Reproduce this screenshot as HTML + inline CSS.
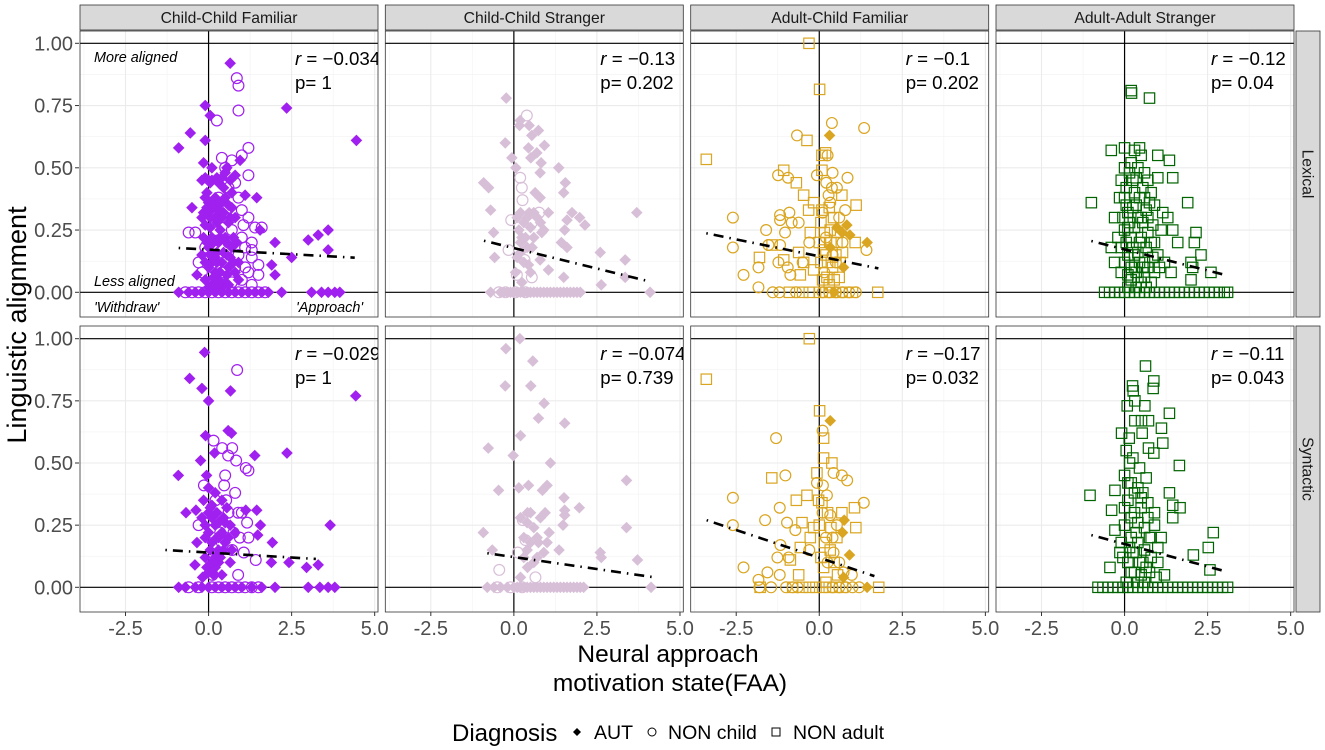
<!DOCTYPE html>
<html><head><meta charset="utf-8">
<style>
html,body{margin:0;padding:0;background:#fff;}
svg{display:block;font-family:"Liberation Sans",Arial,sans-serif;}
</style></head>
<body>
<svg id="chart" width="1325" height="750" viewBox="0 0 1325 750" xmlns="http://www.w3.org/2000/svg">
<defs id="defs"></defs>
<g id="root"></g>
</svg>
<script>
// ---------- data ----------
const facetTitles = ["Child-Child Familiar","Child-Child Stranger","Adult-Child Familiar","Adult-Adult Stranger"];
const rowTitles = ["Lexical","Syntactic"];
const panelColors = ["#a020f0","#d8bfd8","#daa520","#006400"];
const xTicks = [-2.5,0,2.5,5];
const xTickLabels = ["-2.5","0.0","2.5","5.0"];
const yTicks = [0,0.25,0.5,0.75,1];
const yTickLabels = ["0.00","0.25","0.50","0.75","1.00"];
const rValues = [["r = \u22120.034","r = \u22120.13","r = \u22120.1","r = \u22120.12"],["r = \u22120.029","r = \u22120.074","r = \u22120.17","r = \u22120.11"]];
const pValues = [["p= 1","p= 0.202","p= 0.202","p= 0.04"],["p= 1","p= 0.739","p= 0.032","p= 0.043"]];
const fitLines = [[[-0.9,0.178,4.4,0.139],[-0.9,0.207,4.1,0.043],[-3.4,0.237,1.78,0.096],[-1.0,0.206,2.96,0.072]],
                  [[-1.3,0.15,3.23,0.114],[-0.8,0.137,4.24,0.04],[-3.39,0.27,1.66,0.045],[-1.0,0.21,2.96,0.067]]];

// Row 1 (Lexical)
const r1p1_aut = [[0.65,0.92],[-0.1,0.75],[0.05,0.71],[2.35,0.74],[4.45,0.61],[-0.9,0.58],[-0.55,0.64],[-0.1,0.61],[-0.5,0.34],[-0.15,0.52],[0.95,0.53],[1.1,0.39],[1.45,0.38],[0.8,0.47],[1.55,0.25],[2.0,0.2],[1.9,0.11],[2.0,0.07],[-0.35,0.07],[3.0,0.21],[3.3,0.23],[3.6,0.25],[3.6,0.17],[2.5,0.14],[0,0.45],[0.1,0.45],[0.3,0.44],[0.5,0.48],[0.2,0.38],[0.4,0.36],[0.6,0.35],[0.0,0.32],[0.2,0.3],[0.4,0.3],[0.6,0.28],[-0.1,0.27],[0.1,0.22],[0.3,0.2],[0.5,0.22],[0.7,0.18],[-0.2,0.15],[0.0,0.18],[0.2,0.14],[0.4,0.12],[0.6,0.1],[0.0,0.1],[0.2,0.08],[-0.1,0.05],[0.3,0.05],[0.5,0.04],[0.1,0.03],[0.8,0.08],[0.9,0.12],[-0.05,0.4],[0.15,0.34],[0.35,0.25],[0.55,0.15],[-0.15,0.22],[0.05,0.26],[0.25,0.16],[0.45,0.42],[0.7,0.4],[0.0,0.36],[0.8,0.3],[-0.2,0.45],[0.1,0.5],[-0.1,0.38],[0.3,0.33],[0.1,0.12],[-0.2,0.3],
 [-0.1,0.46],[0.05,0.44],[0.25,0.46],[0.4,0.46],[0.55,0.5],[0.65,0.45],[-0.05,0.34],[0.1,0.36],[0.3,0.36],[0.5,0.38],[0.7,0.34],[0.05,0.3],[0.25,0.28],[0.45,0.32],[0.65,0.3],[-0.05,0.2],[0.15,0.2],[0.35,0.22],[0.55,0.2],[0.75,0.22],[0.05,0.15],[0.25,0.12],[0.45,0.16],[0.65,0.14],[-0.1,0.12],[0.15,0.06],[0.35,0.08],[0.55,0.07],[0.75,0.12],[0.0,0.02],[0.2,0.02],[0.4,0.02],[0.6,0.03],[-0.15,0.32],[0.85,0.2],[0.9,0.05]];
const r1p1_nonc = [[0.85,0.86],[0.9,0.83],[0.9,0.73],[0.25,0.69],[1.2,0.58],[1.0,0.55],[0.4,0.54],[0.7,0.53],[1.2,0.47],[0.5,0.5],[0.8,0.44],[1.0,0.33],[1.2,0.3],[1.05,0.27],[1.4,0.26],[1.6,0.26],[1.3,0.2],[-0.6,0.24],[-0.4,0.24],[1.1,0.18],[1.3,0.17],[1.3,0.14],[1.5,0.11],[1.5,0.07],[1.1,0.1],[0.9,0.15],[0.6,0.2],[0.5,0.3],[0.3,0.38],[0.7,0.25],[-0.3,0.12],[-0.2,0.08],[0.4,0.08],[0.7,0.04],[1.0,0.05],[1.3,0.03],[0.6,0.42],[0.9,0.38],[1.0,0.22],[0.8,0.1],[0.2,0.25],[-0.1,0.18],[1.2,0.08]];
const r1p1_nona = [];
const r1p1_autZero = [-0.9,-0.6,-0.4,-0.2,0.0,0.2,0.4,0.6,0.8,1.0,1.2,1.4,1.6,1.8,2.2,3.1,3.4,3.6,3.8,3.95];
const r1p1_noncZero = [-0.7,-0.5,-0.3,-0.1,0.1,0.3,0.5,0.7,0.9,1.1,1.3,1.5,1.7];
const r1p1_nonaZero = [];

const r1p2_aut = [[-0.23,0.78],[0.19,0.69],[0.46,0.67],[0.17,0.67],[0.74,0.65],[0.54,0.63],[-0.26,0.6],[0.92,0.59],[0.44,0.58],[0.69,0.56],[0.51,0.54],[-0.06,0.54],[0.06,0.5],[0.82,0.52],[1.35,0.5],[0.79,0.48],[1.55,0.44],[-0.91,0.44],[-0.76,0.42],[1.5,0.4],[0.64,0.4],[0.79,0.38],[-0.7,0.33],[0.46,0.32],[1.04,0.32],[1.75,0.32],[1.98,0.3],[1.6,0.29],[3.7,0.32],[2.14,0.27],[1.53,0.25],[-0.61,0.24],[0.24,0.22],[0.84,0.24],[1.43,0.2],[1.6,0.18],[2.6,0.16],[3.35,0.13],[-0.58,0.14],[0.79,0.13],[0.44,0.11],[1.04,0.09],[1.5,0.06],[2.63,0.03],[3.35,0.06],[0.24,0.04],[0.1,0.3],[0.3,0.28],[0.5,0.26],[0.2,0.2],[0.4,0.18],[0.6,0.22],[0.1,0.14],[0.3,0.12],[0.7,0.3],[0.9,0.25],[0.05,0.08],[0.2,0.32],[0.4,0.3],[0.6,0.32],[0.8,0.28],[0.15,0.25],[0.35,0.22],[0.55,0.18],[0.2,0.16],[0.5,0.08]];
const r1p2_nonc = [[0.39,0.71],[0.19,0.46],[0.24,0.42],[0.26,0.37],[0.76,0.32],[-0.08,0.29],[0.54,0.28],[-0.16,0.17],[0.09,0.07],[0.54,0.06],[0.32,0.13]];
const r1p2_nona = [];
const r1p2_autZero = [-0.7,-0.4,-0.3,-0.2,-0.1,0.0,0.1,0.2,0.3,0.4,0.5,0.6,0.7,0.8,0.9,1.0,1.1,1.2,1.3,1.4,1.5,1.6,1.7,1.8,1.9,2.0,4.1];
const r1p2_noncZero = [-0.45,-0.25,0.05,0.35];
const r1p2_nonaZero = [];

const r1p3_aut = [[0.31,0.63],[0.83,0.27],[0.69,0.24],[0.92,0.23],[1.44,0.2],[0.53,0.26],[0.73,0.1],[0.33,0.18]];
const r1p3_nonc = [[0.38,0.68],[1.35,0.66],[-0.67,0.63],[0.25,0.55],[-0.07,0.47],[0.4,0.48],[0.85,0.46],[-1.24,0.47],[-0.94,0.46],[0.21,0.44],[0.38,0.42],[0.28,0.39],[0.78,0.33],[-2.6,0.3],[-1.18,0.31],[-0.9,0.32],[-1.18,0.29],[-0.83,0.28],[-0.62,0.28],[-1.6,0.25],[-1.03,0.24],[-2.6,0.18],[-1.53,0.19],[-1.18,0.19],[-1.23,0.12],[-0.95,0.1],[-1.83,0.1],[-2.28,0.07],[-1.83,0.02],[-0.87,0.07],[1.42,0.17],[0.53,0.42],[0.33,0.36],[0.6,0.3],[0.2,0.22],[0.5,0.12],[0.1,0.32],[0.7,0.2],[0.4,0.15],[0.15,0.08],[-0.3,0.2],[-0.5,0.12]];
const r1p3_nona = [[-0.31,1.0],[0.01,0.815],[-3.4,0.534],[-0.37,0.61],[0.08,0.55],[0.19,0.56],[-1.07,0.49],[-0.69,0.44],[-0.47,0.39],[0.08,0.49],[0.68,0.39],[1.11,0.35],[-0.17,0.36],[-0.32,0.33],[0.08,0.33],[-0.27,0.24],[-1.42,0.19],[-1.8,0.14],[-1.07,0.13],[-0.62,0.16],[-0.47,0.12],[-0.17,0.09],[-0.57,0.07],[1.08,0.2],[0.43,0.3],[0.33,0.25],[0.53,0.2],[0.13,0.17],[0.63,0.12],[0.23,0.06],[0.0,0.2],[0.2,0.15],[0.4,0.1],[0.1,0.05],[0.3,0.03],[0.6,0.06],[0.5,0.15],[0.05,0.28],[0.15,0.24],[0.35,0.2],[0.55,0.24],[0.25,0.12],[0.45,0.05],[0.05,0.12],[0.7,0.16],[0.3,0.34]];
const r1p3_autZero = [0.45];
const r1p3_noncZero = [-1.4,-1.2,-0.7,0.1,0.3,0.5,0.7,0.9,1.1];
const r1p3_nonaZero = [-0.9,-0.5,-0.3,0.0,0.2,0.4,0.6,0.8,1.0,1.76];

const r1p4_aut = [];
const r1p4_nonc = [];
const r1p4_nona = [[0.2,0.81],[0.21,0.8],[0.75,0.78],[-0.4,0.57],[0.0,0.58],[0.3,0.57],[0.45,0.58],[0.5,0.55],[1.0,0.55],[1.35,0.53],[0.2,0.52],[0.4,0.5],[0.7,0.45],[1.45,0.46],[1.0,0.46],[-0.1,0.45],[-1.0,0.36],[1.9,0.36],[0.0,0.38],[0.3,0.4],[0.6,0.38],[0.9,0.35],[1.15,0.32],[0.1,0.32],[0.4,0.3],[-0.3,0.3],[0.7,0.3],[1.3,0.3],[1.45,0.25],[2.15,0.24],[2.1,0.2],[1.6,0.2],[-0.4,0.18],[-0.3,0.12],[0.0,0.25],[0.2,0.22],[0.5,0.22],[0.8,0.2],[1.0,0.15],[1.2,0.12],[2.3,0.15],[2.0,0.12],[2.05,0.1],[2.6,0.08],[2.0,0.05],[1.4,0.08],[0.1,0.15],[0.3,0.1],[0.6,0.12],[0.9,0.08],[-0.1,0.08],[0.2,0.05],[0.5,0.04],[0.4,0.16],[0.15,0.28],[0.35,0.35],[0.55,0.28],[0.25,0.45],[-0.2,0.22],[0.7,0.1],[-0.15,0.38],[0.05,0.42],[0.6,0.48],[0.8,0.4],[0.45,0.2],[0.1,0.02],[0.35,0.08],[0.65,0.02],
 [0.0,0.5],[0.15,0.48],[0.35,0.46],[0.55,0.42],[0.75,0.36],[0.05,0.35],[0.25,0.34],[0.45,0.38],[0.65,0.33],[0.85,0.27],[-0.05,0.3],[0.1,0.26],[0.3,0.26],[0.5,0.3],[0.7,0.24],[0.9,0.2],[1.1,0.25],[-0.1,0.18],[0.05,0.2],[0.25,0.18],[0.45,0.12],[0.65,0.18],[0.85,0.14],[1.05,0.1],[0.0,0.12],[0.2,0.1],[0.4,0.06],[0.6,0.06],[0.8,0.04],[0.1,0.07],[0.3,0.15],[0.55,0.1],[0.35,0.02]];
const r1p4_autZero = [];
const r1p4_noncZero = [];
const r1p4_nonaZero = [-0.6,-0.45,-0.3,-0.15,0.0,0.15,0.3,0.45,0.6,0.75,0.9,1.05,1.2,1.35,1.5,1.65,1.8,1.95,2.1,2.25,2.4,2.55,2.7,2.85,3.0,3.1];

// Row 2 (Syntactic)
const r2p1_aut = [[-0.12,0.945],[-0.57,0.84],[-0.2,0.8],[0.66,0.79],[0,0.75],[4.43,0.77],[-0.09,0.61],[0.59,0.63],[0.69,0.62],[-0.91,0.45],[-0.24,0.51],[0.18,0.54],[1.39,0.53],[2.36,0.54],[-0.06,0.45],[-0.68,0.3],[-0.38,0.31],[1.45,0.31],[1.12,0.31],[1.56,0.25],[3.66,0.25],[1.48,0.21],[1.92,0.18],[-0.35,0.18],[-0.41,0.09],[1.89,0.1],[2.42,0.1],[2.95,0.08],[3.3,0.09],[-0.18,0.04],[0,0.3],[0.1,0.28],[0.2,0.25],[0.3,0.2],[0.4,0.22],[0.5,0.18],[0.0,0.22],[0.1,0.18],[0.2,0.12],[0.3,0.1],[-0.1,0.12],[0.4,0.35],[0.6,0.2],[0.7,0.15],[0.0,0.4],[0.2,0.38],[0.5,0.26],[0.8,0.22],[-0.05,0.08],[0.15,0.05],[-0.1,0.25],[0.1,0.33],[0.3,0.15],
 [-0.15,0.35],[0.05,0.32],[0.25,0.3],[0.45,0.28],[0.65,0.25],[-0.1,0.2],[0.05,0.15],[0.25,0.2],[0.45,0.15],[0.65,0.1],[0.0,0.06],[0.2,0.08],[0.4,0.05],[-0.2,0.28],[0.3,0.26],[0.55,0.32],[0.1,0.1],[0.35,0.12]];
const r2p1_nonc = [[0.86,0.874],[0.15,0.59],[0.41,0.56],[0.71,0.56],[0.59,0.53],[0.83,0.51],[1.12,0.48],[1.2,0.47],[-0.14,0.41],[0.47,0.41],[0.8,0.38],[0.21,0.35],[0.53,0.35],[0.89,0.3],[1.16,0.26],[-0.3,0.25],[0.94,0.2],[1.42,0.11],[0.12,0.05],[0.89,0.05],[1.06,0.14],[0.35,0.22],[0.71,0.15],[0.6,0.3],[0.25,0.12],[0.5,0.45],[1.0,0.3],[0.75,0.22],[0.4,0.18],[1.2,0.2]];
const r2p1_nona = [];
const r2p1_autZero = [-0.9,-0.7,-0.4,-0.2,0.0,0.2,0.4,0.6,0.8,1.0,1.3,1.6,2.0,3.0,3.35,3.6,3.8];
const r2p1_noncZero = [-0.6,-0.3,0.1,0.3,0.5,0.7,0.9,1.1,1.3,1.5];
const r2p1_nonaZero = [];

const r2p2_aut = [[0.18,1.0],[-0.24,0.96],[0.57,0.91],[-0.26,0.81],[0.51,0.81],[0.91,0.74],[0.74,0.68],[1.53,0.66],[0.2,0.61],[-0.77,0.56],[-0.02,0.53],[1.1,0.5],[3.39,0.43],[-0.46,0.39],[0.15,0.4],[0.44,0.41],[1.0,0.41],[0.86,0.39],[1.51,0.36],[1.97,0.32],[1.53,0.31],[0.94,0.3],[0.41,0.3],[1.53,0.29],[1.48,0.25],[3.39,0.24],[-0.92,0.22],[1.06,0.22],[0.74,0.18],[1.36,0.15],[2.6,0.14],[2.63,0.12],[3.72,0.11],[-0.65,0.15],[0.41,0.08],[0.2,0.04],[0.2,0.28],[0.4,0.26],[0.6,0.24],[0.3,0.2],[0.5,0.18],[0.7,0.2],[0.3,0.12],[0.6,0.1],[0.9,0.14],[0.5,0.3],[0.8,0.28],[0.4,0.15],[0.7,0.12],[1.0,0.18]];
const r2p2_nonc = [[-0.44,0.07],[0.65,0.04],[0.27,0.27],[0.35,0.19],[0.12,0.14]];
const r2p2_nona = [];
const r2p2_autZero = [-0.8,-0.6,-0.4,-0.2,0.0,0.1,0.2,0.3,0.4,0.5,0.6,0.7,0.8,0.9,1.0,1.1,1.2,1.3,1.4,1.5,1.6,1.7,1.8,1.9,2.0,2.1,4.13];
const r2p2_noncZero = [-0.5,-0.1,0.25];
const r2p2_nonaZero = [];

const r2p3_aut = [[0.33,0.67],[0.75,0.27],[0.7,0.22],[0.91,0.13],[0.73,0.04]];
const r2p3_nonc = [[0.1,0.63],[-1.3,0.6],[0.43,0.46],[0.68,0.45],[0.84,0.43],[-1.02,0.45],[-0.07,0.42],[0.11,0.41],[0.23,0.37],[-2.6,0.36],[1.34,0.34],[-1.19,0.32],[-1.63,0.27],[-2.6,0.25],[-0.97,0.26],[-0.72,0.23],[-1.17,0.17],[-0.92,0.12],[-1.26,0.12],[-2.28,0.08],[-1.56,0.06],[-1.19,0.05],[-1.83,0.03],[0.98,0.05],[0.33,0.29],[0.53,0.25],[0.43,0.14],[0.73,0.06],[0.2,0.2],[0.6,0.1],[0.1,0.3],[0.4,0.2],[0.25,0.1],[-0.3,0.15]];
const r2p3_nona = [[-0.3,1.0],[-3.4,0.837],[0.01,0.71],[0.13,0.6],[0.13,0.52],[0.38,0.5],[-0.07,0.46],[-1.43,0.44],[-0.02,0.35],[-0.69,0.35],[-0.37,0.37],[0.08,0.34],[0.68,0.3],[1.06,0.32],[-0.52,0.26],[-0.17,0.24],[1.1,0.24],[-0.27,0.2],[-0.57,0.16],[-0.87,0.11],[-0.62,0.05],[0.53,0.2],[0.33,0.15],[0.13,0.08],[0.0,0.25],[0.25,0.3],[0.45,0.1],[0.15,0.18],[0.35,0.24],[0.05,0.12],[0.55,0.05],[0.2,0.02]];
const r2p3_autZero = [1.44];
const r2p3_noncZero = [-1.8,-1.45,-1.0,-0.8,-0.65,0.4,0.6,0.8,1.0,1.2];
const r2p3_nonaZero = [-1.78,-0.8,-0.5,-0.3,-0.1,0.1,0.3,0.5,0.7,1.79];

const r2p4_aut = [];
const r2p4_nonc = [];
const r2p4_nona = [[0.63,0.89],[0.88,0.83],[0.24,0.81],[0.26,0.79],[0.86,0.8],[0.31,0.75],[0.08,0.73],[0.61,0.73],[1.35,0.7],[0.31,0.67],[0.51,0.67],[0.72,0.67],[1.11,0.64],[-0.09,0.62],[0.14,0.6],[0.53,0.62],[1.15,0.58],[0.72,0.56],[0.88,0.54],[1.65,0.49],[-1.04,0.37],[-0.29,0.39],[-0.39,0.31],[1.45,0.33],[1.67,0.32],[1.35,0.38],[1.45,0.28],[2.67,0.22],[2.52,0.16],[2.07,0.13],[2.57,0.07],[-0.44,0.08],[-0.29,0.23],[-0.14,0.14],[0.0,0.45],[0.2,0.42],[0.4,0.4],[0.1,0.35],[0.3,0.3],[0.5,0.32],[0.7,0.28],[0.9,0.25],[0.0,0.25],[0.2,0.2],[0.4,0.18],[0.6,0.15],[0.8,0.12],[1.0,0.1],[0.1,0.1],[0.3,0.06],[0.5,0.05],[-0.1,0.18],[0.15,0.5],[0.35,0.22],[0.55,0.38],[0.75,0.2],[1.1,0.2],[1.2,0.05],[0.25,0.14],[0.45,0.1],[0.05,0.02],[0.65,0.08],
 [0.05,0.55],[0.25,0.52],[0.45,0.48],[0.65,0.44],[0.1,0.42],[0.3,0.38],[0.5,0.36],[0.7,0.34],[0.9,0.3],[0.0,0.32],[0.2,0.28],[0.4,0.26],[0.6,0.24],[0.8,0.2],[1.0,0.16],[-0.05,0.12],[0.15,0.16],[0.35,0.14],[0.55,0.1],[0.75,0.06],[0.95,0.04],[0.2,0.06],[0.4,0.02],[0.6,0.02]];
const r2p4_autZero = [];
const r2p4_noncZero = [];
const r2p4_nonaZero = [-0.8,-0.65,-0.5,-0.35,-0.2,-0.05,0.1,0.25,0.4,0.55,0.7,0.85,1.0,1.15,1.3,1.45,1.6,1.75,1.9,2.05,2.2,2.35,2.5,2.65,2.8,2.95,3.1];

const seriesByPanel = [
 [[r1p1_aut,r1p1_nonc,r1p1_nona,r1p1_autZero,r1p1_noncZero,r1p1_nonaZero],[r1p2_aut,r1p2_nonc,r1p2_nona,r1p2_autZero,r1p2_noncZero,r1p2_nonaZero],[r1p3_aut,r1p3_nonc,r1p3_nona,r1p3_autZero,r1p3_noncZero,r1p3_nonaZero],[r1p4_aut,r1p4_nonc,r1p4_nona,r1p4_autZero,r1p4_noncZero,r1p4_nonaZero]],
 [[r2p1_aut,r2p1_nonc,r2p1_nona,r2p1_autZero,r2p1_noncZero,r2p1_nonaZero],[r2p2_aut,r2p2_nonc,r2p2_nona,r2p2_autZero,r2p2_noncZero,r2p2_nonaZero],[r2p3_aut,r2p3_nonc,r2p3_nona,r2p3_autZero,r2p3_noncZero,r2p3_nonaZero],[r2p4_aut,r2p4_nonc,r2p4_nona,r2p4_autZero,r2p4_noncZero,r2p4_nonaZero]]
];

// ---------- layout ----------
const NS = "http://www.w3.org/2000/svg";
const root = document.getElementById('root');
const defs = document.getElementById('defs');
const panelLeft = [80, 385.3, 690.7, 996];
const panelW = 298;
const rowTop = [31, 326];
const rowH = 286;
const xMin = -3.87, xMax = 5.1;
const y0Row = [292.3, 587.3], y1Row = [43.3, 338.7];
function sx(p, v){ return panelLeft[p] + (v - xMin) / (xMax - xMin) * panelW; }
function sy(r, v){ return y0Row[r] + (y1Row[r] - y0Row[r]) * v; }
function mk(tag, attrs, parent){ const e=document.createElementNS(NS,tag); for(const k in attrs) e.setAttribute(k,attrs[k]); (parent||root).appendChild(e); return e; }

for (let r=0;r<2;r++){
  yTicks.forEach((t,i)=>{
    const tx = mk('text',{x:73,y:sy(r,t)+7,'text-anchor':'end','font-size':20,fill:'#4d4d4d'});
    tx.textContent = yTickLabels[i];
    
    
    mk('line',{x1:75,x2:79,y1:sy(r,t),y2:sy(r,t),stroke:'#333','stroke-width':1});
  });
}
for (let p=0;p<4;p++){
  xTicks.forEach((t,i)=>{
    const tx = mk('text',{x:sx(p,t),y:635,'text-anchor':'middle','font-size':20,fill:'#4d4d4d'});
    tx.textContent = xTickLabels[i];
    
    
    mk('line',{x1:sx(p,t),x2:sx(p,t),y1:612,y2:616,stroke:'#333','stroke-width':1});
  });
  const st = mk('g',{});
  
  
  mk('rect',{x:panelLeft[p],y:5,width:panelW,height:25,fill:'#d9d9d9',stroke:'#333','stroke-width':0.8},st);
  const tt = mk('text',{x:panelLeft[p]+panelW/2,y:23,'text-anchor':'middle','font-size':15.7,fill:'#1a1a1a'},st);
  tt.textContent = facetTitles[p];
}
for (let r=0;r<2;r++){
  const g = mk('g',{});
  
  
  mk('rect',{x:1296,y:rowTop[r],width:24,height:rowH,fill:'#d9d9d9',stroke:'#333','stroke-width':0.8},g);
  const cx=1308, cy=rowTop[r]+rowH/2;
  const t = mk('text',{x:cx,y:cy,'text-anchor':'middle','font-size':15.7,fill:'#1a1a1a',transform:`rotate(90 ${cx} ${cy}) translate(0 5.5)`},g);
  t.textContent = rowTitles[r];
}

const shapeNames = ['aut-point','non-child-point','non-adult-point'];
function drawShape(g, kind, x, y, col){
  let e;
  if (kind===0){ e = mk('path',{d:`M${x} ${y-5.8}L${x+5.8} ${y}L${x} ${y+5.8}L${x-5.8} ${y}Z`,fill:col},g); }
  else if (kind===1){ e = mk('circle',{cx:x,cy:y,r:5.4,fill:'none',stroke:col,'stroke-width':1.2},g); }
  else { e = mk('rect',{x:x-5.2,y:y-5.2,width:10.4,height:10.4,fill:'none',stroke:col,'stroke-width':1.2},g); }
  
  
}

for (let r=0;r<2;r++){
  for (let p=0;p<4;p++){
    const L=panelLeft[p], T=rowTop[r];
    const cid='clip'+r+p;
    const cp = mk('clipPath',{id:cid},defs);
    mk('rect',{x:L,y:T,width:panelW,height:rowH},cp);
    const pg = mk('g',{});
    
    
    mk('rect',{x:L,y:T,width:panelW,height:rowH,fill:'#fff'},pg);
    const cg = mk('g',{'clip-path':`url(#${cid})`},pg);
    [-3.75,-1.25,1.25,3.75].forEach(v=>mk('line',{x1:sx(p,v),x2:sx(p,v),y1:T,y2:T+rowH,stroke:'#f2f2f2','stroke-width':0.6},cg));
    [-0.125,0.125,0.375,0.625,0.875].forEach(v=>mk('line',{x1:L,x2:L+panelW,y1:sy(r,v),y2:sy(r,v),stroke:'#f2f2f2','stroke-width':0.6},cg));
    xTicks.forEach(v=>mk('line',{x1:sx(p,v),x2:sx(p,v),y1:T,y2:T+rowH,stroke:'#ebebeb','stroke-width':1.1},cg));
    yTicks.forEach(v=>mk('line',{x1:L,x2:L+panelW,y1:sy(r,v),y2:sy(r,v),stroke:'#ebebeb','stroke-width':1.1},cg));
    mk('line',{x1:L,x2:L+panelW,y1:sy(r,0),y2:sy(r,0),stroke:'#000','stroke-width':1.2},cg);
    mk('line',{x1:L,x2:L+panelW,y1:sy(r,1),y2:sy(r,1),stroke:'#000','stroke-width':1.2},cg);
    mk('line',{x1:sx(p,0),x2:sx(p,0),y1:T,y2:T+rowH,stroke:'#000','stroke-width':1.2},cg);
    const col = panelColors[p];
    const s = seriesByPanel[r][p];
    for (let k=0;k<3;k++){
      s[k].forEach(d=>drawShape(cg,k,sx(p,d[0]),sy(r,d[1]),col));
      s[k+3].forEach(xv=>drawShape(cg,k,sx(p,xv),sy(r,0),col));
    }
    const f = fitLines[r][p];
    const fl = mk('line',{x1:sx(p,f[0]),y1:sy(r,f[1]),x2:sx(p,f[2]),y2:sy(r,f[3]),stroke:'#000','stroke-width':2.6,'stroke-dasharray':'1.5 6 10 6'},cg);
    
    
    const rt = mk('text',{x:L+215,y:T+34,'font-size':18.7,fill:'#000'},cg);
    rt.innerHTML = '<tspan font-style="italic">r</tspan>'+rValues[r][p].slice(1);
    
    
    const ptx = mk('text',{x:L+215,y:T+58,'font-size':18.7,fill:'#000'},cg);
    ptx.textContent = pValues[r][p];
    
    
    if (r===0 && p===0){
      const ann=[["More aligned",94,62],["Less aligned",94,286],["'Withdraw'",94,312],["'Approach'",296,312]];
      ann.forEach(a=>{ const t=mk('text',{x:a[1],y:a[2],'font-size':14.4,'font-style':'italic',fill:'#000'},cg); t.textContent=a[0];
          });
    }
    mk('rect',{x:L,y:T,width:panelW,height:rowH,fill:'none',stroke:'#333','stroke-width':0.8},pg);
  }
}
let t = mk('text',{x:0,y:0,'text-anchor':'middle','font-size':27,fill:'#000',transform:'translate(26 325) rotate(-90)'});
t.textContent='Linguistic alignment';
 
t = mk('text',{x:668,y:662,'text-anchor':'middle','font-size':24.5,fill:'#000'}); t.textContent='Neural approach';
 
t = mk('text',{x:670,y:691,'text-anchor':'middle','font-size':24.5,fill:'#000'}); t.textContent='motivation state(FAA)';
 
const lg = mk('g',{});


t = mk('text',{x:452,y:741,'font-size':24,fill:'#000'},lg); t.textContent='Diagnosis';
mk('path',{d:'M577 728L581 732L577 736L573 732Z',fill:'#000'},lg);
t = mk('text',{x:594,y:739,'font-size':19.5,fill:'#000'},lg); t.textContent='AUT';
mk('circle',{cx:652,cy:732,r:4,fill:'none',stroke:'#000','stroke-width':1},lg);
t = mk('text',{x:668,y:739,'font-size':19.5,fill:'#000'},lg); t.textContent='NON child';
mk('rect',{x:772,y:728,width:8,height:8,fill:'none',stroke:'#000','stroke-width':1},lg);
t = mk('text',{x:793,y:739,'font-size':19.5,fill:'#000'},lg); t.textContent='NON adult';
</script>
</body></html>
